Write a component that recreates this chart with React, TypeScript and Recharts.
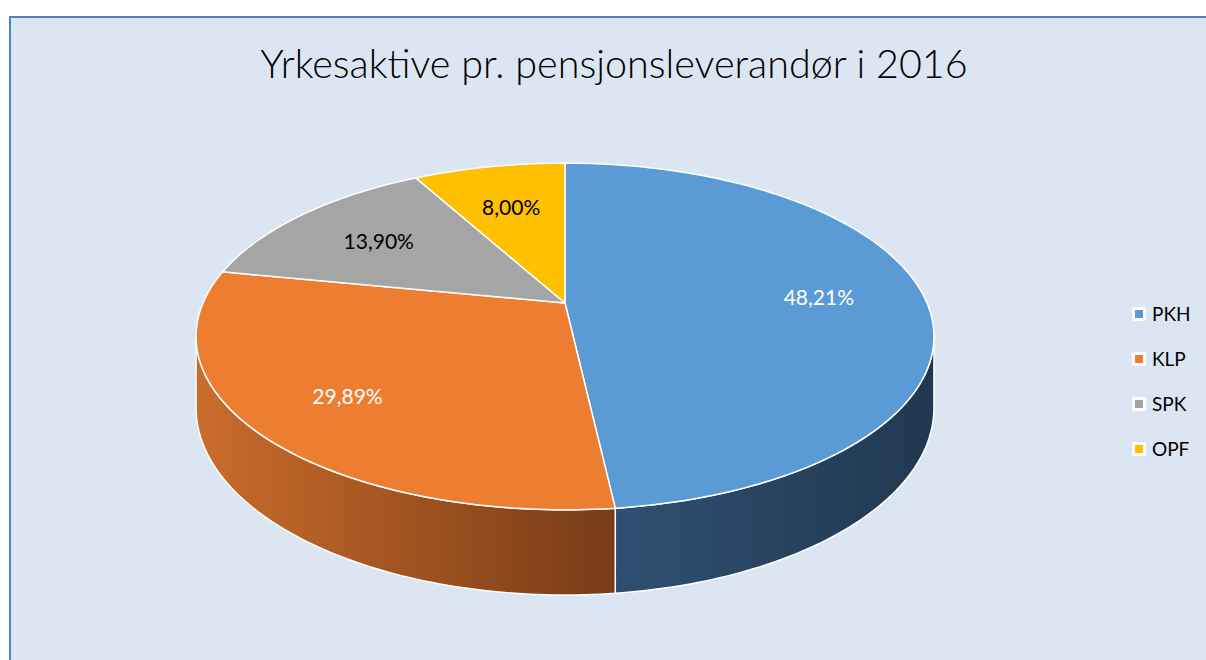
import React from 'react';
import { PieChart, Pie, Cell, Legend } from 'recharts';

const CATEGORIES = ['PKH', 'KLP', 'SPK', 'OPF'];
const SHARES = [48.21, 29.89, 13.9, 8.0];
const TITLE = 'Yrkesaktive pr. pensjonsleverandør i 2016';

const COLORS = ['#5B9BD5', '#ED7D31', '#A5A5A5', '#FFC000'];
const SIDE_COLORS: [string, string][] = [
  ['#2F4F72', '#21384F'],
  ['#CB6C2C', '#773B16'],
  ['#6E6E6E', '#555555'],
  ['#B08500', '#8A6800'],
];
const LABEL_COLORS = ['#FFFFFF', '#FFFFFF', '#000000', '#000000'];

const data = CATEGORIES.map((name, i) => ({ name, value: SHARES[i] }));

// simple perspective projection of a flat disk
const K = 0.193;
const Y_SCALE = 0.461;
const DEPTH = 0.19;
const SIL = (Math.acos(-K) * 180) / Math.PI; // right silhouette angle (clockwise from top)

function project(cx: number, cy: number, r: number, thetaDeg: number, drop = 0): [number, number] {
  const t = (thetaDeg * Math.PI) / 180;
  const c = Math.cos(t);
  const s = Math.sin(t);
  const p = 1 / (1 + K * c);
  return [cx + r * s * p, cy - r * Y_SCALE * c * p + drop * r * DEPTH * p];
}

function arcPoints(cx: number, cy: number, r: number, a: number, b: number, drop = 0) {
  const pts: [number, number][] = [];
  const n = Math.max(2, Math.ceil(Math.abs(b - a)));
  for (let i = 0; i <= n; i++) {
    pts.push(project(cx, cy, r, a + ((b - a) * i) / n, drop));
  }
  return pts;
}

const idxOf = (props: any) => {
  const name = props?.payload?.name ?? props?.name;
  const i = CATEGORIES.indexOf(name);
  return i < 0 ? 0 : i;
};

const Slice3D = (props: any) => {
  const { cx, cy, outerRadius, startAngle, endAngle } = props;
  const i = idxOf(props);
  const t1 = 90 - startAngle;
  const t2 = 90 - endAngle;
  const lo = Math.min(t1, t2);
  const hi = Math.max(t1, t2);
  const top = arcPoints(cx, cy, outerRadius, lo, hi);
  const topPath =
    `M${cx},${cy} ` + top.map((p) => `L${p[0].toFixed(2)},${p[1].toFixed(2)}`).join(' ') + ' Z';
  const a = Math.max(lo, SIL);
  const b = Math.min(hi, 360 - SIL);
  let wall: React.ReactNode = null;
  if (b > a) {
    const upper = arcPoints(cx, cy, outerRadius, a, b, 0);
    const lower = arcPoints(cx, cy, outerRadius, b, a, 1);
    const d =
      upper.map((p, j) => `${j === 0 ? 'M' : 'L'}${p[0].toFixed(2)},${p[1].toFixed(2)}`).join(' ') +
      ' ' +
      lower.map((p) => `L${p[0].toFixed(2)},${p[1].toFixed(2)}`).join(' ') +
      ' Z';
    wall = (
      <g>
        <defs>
          <linearGradient id={`side-${i}`} x1="0" y1="0" x2="1" y2="0">
            <stop offset="0%" stopColor={SIDE_COLORS[i][0]} />
            <stop offset="100%" stopColor={SIDE_COLORS[i][1]} />
          </linearGradient>
        </defs>
        <path d={d} fill={`url(#side-${i})`} stroke="#FFFFFF" strokeWidth={1.5} strokeLinejoin="round" />
      </g>
    );
  }
  return (
    <g>
      {wall}
      <path d={topPath} fill={COLORS[i]} stroke="#FFFFFF" strokeWidth={1.5} strokeLinejoin="round" />
    </g>
  );
};

const renderLabel = (props: any) => {
  const { cx, cy, outerRadius, midAngle, value } = props;
  const i = idxOf(props);
  const [x, y] = project(cx, cy, outerRadius * 0.71, 90 - midAngle);
  return (
    <text
      x={x}
      y={y}
      textAnchor="middle"
      dominantBaseline="central"
      fill={LABEL_COLORS[i]}
      style={{ fontFamily: 'Lato, sans-serif', fontSize: 21 }}
    >
      {Number(value).toFixed(2).replace('.', ',') + '%'}
    </text>
  );
};

const renderLegend = () => (
  <div>
    {CATEGORIES.map((name, i) => (
      <div key={name} style={{ height: 45, display: 'flex', alignItems: 'center' }}>
        <span
          style={{
            width: 14,
            height: 14,
            background: '#FFFFFF',
            borderRadius: 2,
            display: 'flex',
            alignItems: 'center',
            justifyContent: 'center',
            marginRight: 6,
          }}
        >
          <span style={{ width: 8, height: 8, background: COLORS[i], display: 'block' }} />
        </span>
        <span style={{ fontFamily: 'Lato, sans-serif', fontSize: 19, color: '#000' }}>{name}</span>
      </div>
    ))}
  </div>
);

export default function App() {
  return (
    <div
      style={{
        position: 'absolute',
        left: 0,
        top: 0,
        width: 1206,
        height: 660,
        overflow: 'hidden',
        background: '#FFFFFF',
      }}
    >
      <div
        style={{
          position: 'absolute',
          left: 9,
          top: 16,
          width: 1230,
          height: 700,
          background: '#DCE6F2',
          borderTop: '2px solid #4F81BD',
          borderLeft: '2px solid #4F81BD',
          boxSizing: 'border-box',
        }}
      />
      <svg width={1206} height={100} style={{ position: 'absolute', left: 0, top: 0 }}>
        <text
          x={614}
          y={78}
          textAnchor="middle"
          fill="#000000"
          style={{ fontFamily: 'Lato, sans-serif', fontSize: 39.5, fontWeight: 300 }}
        >
          {TITLE}
        </text>
      </svg>
      <div style={{ position: 'absolute', left: 0, top: 0 }}>
        <PieChart width={1206} height={660} margin={{ top: 0, right: 0, bottom: 0, left: 0 }}>
          <Pie
            data={data}
            dataKey="value"
            nameKey="name"
            cx={565}
            cy={303}
            outerRadius={362}
            startAngle={90}
            endAngle={-270}
            stroke="none"
            isAnimationActive={false}
            label={renderLabel}
            labelLine={false}
            shape={Slice3D}
            inactiveShape={Slice3D}
            activeShape={Slice3D}
          >
            {data.map((d, i) => (
              <Cell key={d.name} fill={COLORS[i]} />
            ))}
          </Pie>
          <Legend
            layout="vertical"
            align="right"
            verticalAlign="top"
            content={renderLegend}
            wrapperStyle={{ position: 'absolute', left: 1132, top: 291, width: 80 }}
          />
        </PieChart>
      </div>
    </div>
  );
}
